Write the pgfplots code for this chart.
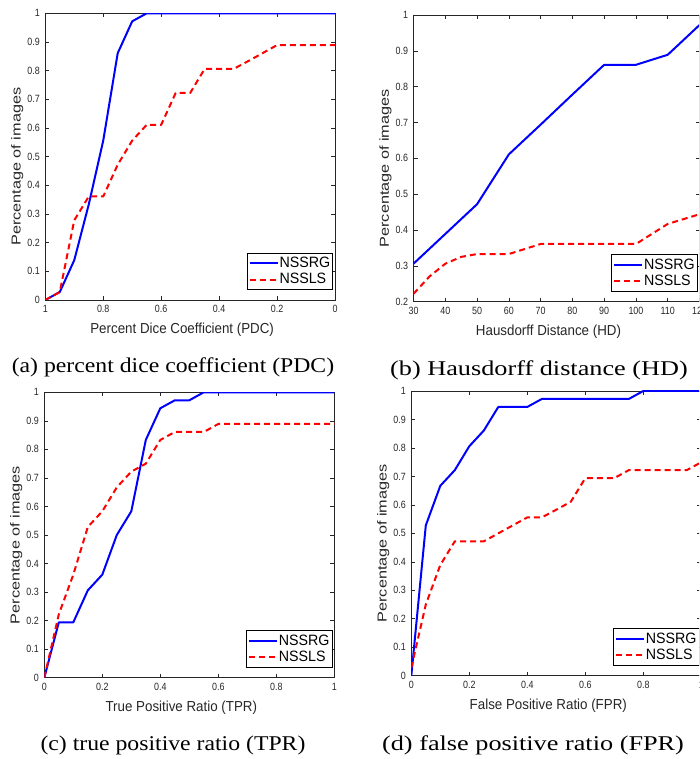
\documentclass[border=0pt]{standalone}
\usepackage{fontspec}
\setmainfont{Liberation Serif}
\newfontfamily\tickf[FakeStretch=0.85]{Liberation Sans}
\newfontfamily\labf[FakeStretch=0.92]{Liberation Sans}
\newfontfamily\legf[FakeStretch=0.95]{Liberation Sans}
\newfontfamily\ylabf[FakeStretch=1.25]{Liberation Sans}
\newfontfamily\capf[FakeStretch=1.13]{Liberation Serif}
\newfontfamily\capr[FakeStretch=1.25]{Liberation Serif}
\usepackage{pgfplots}
\pgfplotsset{compat=1.18}
\definecolor{axgray}{gray}{0.15}
\pgfplotsset{
 mystyle/.style={
  scale only axis, anchor=south west,
  axis line style={axgray, line width=0.6pt},
  every tick/.style={axgray, line width=0.6pt},
  major tick length=4pt,
  tick label style={font=\fontsize{10.5}{12}\tickf, text=axgray},
  /pgf/number format/assume math mode=true,
  xticklabel style={yshift=-2pt},
  yticklabel style={xshift=-2pt},
  xlabel style={font=\fontsize{14.5}{16}\labf, text=axgray, at={([xshift=-8pt,yshift=-30pt]axis description cs:0.5,0)}, anchor=center},
  ylabel style={font=\fontsize{13}{15}\ylabf, text=axgray, at={([xshift=-28pt,yshift=-10pt]axis description cs:0,0.5)}, anchor=center},
  ylabel={Percentage of images},
  legend style={font=\fontsize{15}{17}\legf, draw=black, line width=0.6pt, at={(axis description cs:1,0)}, anchor=south east, xshift=-2pt, yshift=10pt, inner xsep=1.5pt, inner ysep=2pt, nodes={inner xsep=1pt, inner ysep=2.2pt, text=black}},
  legend cell align=left,
  legend image code/.code={\draw[##1] (0pt,0pt) -- (28pt,0pt);},
 },
 bl/.style={blue, line width=2pt, line join=round},
 rd/.style={red, line width=2pt, line join=round, dash pattern=on 6pt off 4pt},
}
\begin{document}
\begin{tikzpicture}
\useasboundingbox (0,0) rectangle (699pt,759pt);
\clip (0,0) rectangle (699pt,759pt);
% (a)
\begin{axis}[mystyle, at={(45.3pt,459pt)}, width=289.7pt, height=286.7pt,
  xmin=0, xmax=1, x dir=reverse, ymin=0, ymax=1,
  xtick={0,0.2,0.4,0.6,0.8,1}, ytick={0,0.1,0.2,0.3,0.4,0.5,0.6,0.7,0.8,0.9,1},
  xlabel={Percent Dice Coefficient (PDC)}]
\addplot[bl] coordinates {(1,0) (0.95,0.0278) (0.9,0.139) (0.85,0.333) (0.8,0.556) (0.75,0.861) (0.7,0.972) (0.65,1) (0.6,1) (0.4,1) (0.2,1) (0,1)};
\addlegendentry{NSSRG}
\addplot[rd] coordinates {(1,0) (0.95,0.0278) (0.9,0.278) (0.85,0.361) (0.8,0.361) (0.75,0.472) (0.7,0.556) (0.65,0.611) (0.6,0.611) (0.55,0.722) (0.5,0.722) (0.45,0.806) (0.4,0.806) (0.35,0.806) (0.3,0.833) (0.25,0.861) (0.2,0.889) (0.1,0.889) (0,0.889)};
\addlegendentry{NSSLS}
\end{axis}
% (b)
\begin{axis}[mystyle, at={(413.5pt,457.3pt)}, width=286pt, height=286.7pt,
  xmin=30, xmax=120, ymin=0.2, ymax=1,
  xtick={30,40,50,60,70,80,90,100,110,120}, ytick={0.2,0.3,0.4,0.5,0.6,0.7,0.8,0.9,1},
  xlabel={Hausdorff Distance (HD)}]
\addplot[bl] coordinates {(30,0.306) (40,0.389) (50,0.472) (60,0.611) (70,0.694) (80,0.778) (90,0.861) (100,0.861) (110,0.889) (120,0.972)};
\addlegendentry{NSSRG}
\addplot[rd] coordinates {(30,0.222) (35,0.27) (40,0.306) (45,0.325) (50,0.333) (60,0.333) (70,0.361) (80,0.361) (90,0.361) (100,0.361) (110,0.417) (120,0.444)};
\addlegendentry{NSSLS}
\end{axis}
% (c)
\begin{axis}[mystyle, at={(44.3pt,81.3pt)}, width=290pt, height=285.4pt,
  xmin=0, xmax=1, ymin=0, ymax=1,
  xtick={0,0.2,0.4,0.6,0.8,1}, ytick={0,0.1,0.2,0.3,0.4,0.5,0.6,0.7,0.8,0.9,1},
  xlabel={True Positive Ratio (TPR)}]
\addplot[bl] coordinates {(0,0) (0.05,0.194) (0.1,0.194) (0.15,0.306) (0.2,0.361) (0.25,0.5) (0.3,0.583) (0.35,0.833) (0.4,0.944) (0.45,0.972) (0.5,0.972) (0.55,1) (0.6,1) (0.8,1) (1,1)};
\addlegendentry{NSSRG}
\addplot[rd] coordinates {(0,0) (0.05,0.222) (0.1,0.361) (0.15,0.528) (0.2,0.583) (0.25,0.667) (0.3,0.722) (0.35,0.75) (0.4,0.833) (0.45,0.861) (0.5,0.861) (0.55,0.861) (0.6,0.889) (0.8,0.889) (1,0.889)};
\addlegendentry{NSSLS}
\end{axis}
% (d)
\begin{axis}[mystyle, at={(411.3pt,83.3pt)}, width=290pt, height=284.7pt,
  xmin=0, xmax=1, ymin=0, ymax=1,
  xtick={0,0.2,0.4,0.6,0.8,1}, ytick={0,0.1,0.2,0.3,0.4,0.5,0.6,0.7,0.8,0.9,1},
  xlabel={False Positive Ratio (FPR)}]
\addplot[bl] coordinates {(0,0) (0.05,0.528) (0.1,0.667) (0.15,0.722) (0.2,0.806) (0.25,0.861) (0.3,0.944) (0.35,0.944) (0.4,0.944) (0.45,0.972) (0.5,0.972) (0.6,0.972) (0.7,0.972) (0.75,0.972) (0.8,1) (0.9,1) (1,1)};
\addlegendentry{NSSRG}
\addplot[rd] coordinates {(0,0.028) (0.05,0.25) (0.1,0.389) (0.15,0.472) (0.2,0.472) (0.25,0.472) (0.3,0.5) (0.35,0.528) (0.4,0.556) (0.45,0.556) (0.5,0.583) (0.55,0.611) (0.6,0.694) (0.65,0.694) (0.7,0.694) (0.75,0.722) (0.8,0.722) (0.85,0.722) (0.9,0.722) (0.95,0.722) (1,0.75)};
\addlegendentry{NSSLS}
\end{axis}
\node[font=\fontsize{21}{24}\capf] at (173pt,392pt) {(a) percent dice coefficient (PDC)};
\node[font=\fontsize{21}{24}\capr] at (539pt,389pt) {(b) Hausdorff distance (HD)};
\node[font=\fontsize{21}{24}\capf] at (173pt,14pt) {(c) true positive ratio (TPR)};
\node[font=\fontsize{21}{24}\capr] at (533pt,14pt) {(d) false positive ratio (FPR)};
\end{tikzpicture}
\end{document}
